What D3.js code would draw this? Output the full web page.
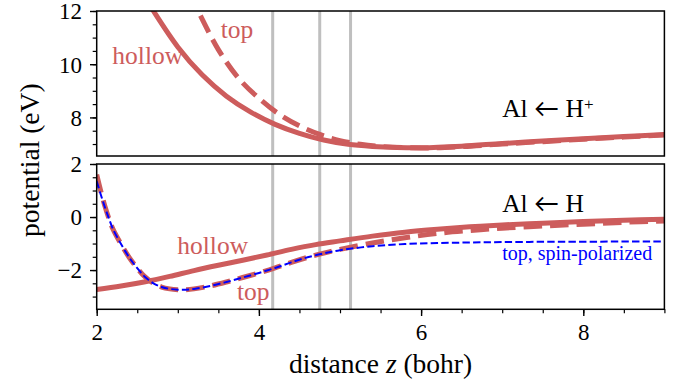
<!DOCTYPE html>
<html>
<head>
<meta charset="utf-8">
<script src="https://cdn.jsdelivr.net/npm/d3@7"></script>
<style>
  body { margin: 0; background: #fff; }
</style>
</head>
<body>
<svg id="chart" width="678" height="386" font-family="Liberation Serif"></svg>
<script>
// distance z (bohr) and potential (eV)

// Al <- H+ (upper panel)
const ionHollowZ = [2.0, 2.4, 2.7, 3.0, 3.3, 3.6, 3.9, 4.2, 4.5, 4.8, 5.1, 5.4, 5.7, 6.0, 6.5, 7.0, 7.5, 8.0, 8.5, 9.0];
const ionHollowV = [16.0, 13.5, 12.0, 10.65, 9.6, 8.8, 8.2, 7.74, 7.4, 7.15, 6.99, 6.91, 6.87, 6.86, 6.92, 7.02, 7.11, 7.2, 7.28, 7.36];
const ionTopZ = [2.5, 2.75, 3.0, 3.25, 3.5, 3.75, 4.0, 4.25, 4.5, 4.75, 5.0, 5.25, 5.5, 6.0, 6.5, 7.0, 7.5, 8.0, 8.5, 9.0];
const ionTopV = [17.3, 15.3, 13.55, 12.0, 10.55, 9.47, 8.72, 8.12, 7.68, 7.36, 7.13, 6.99, 6.91, 6.85, 6.9, 7.0, 7.09, 7.18, 7.26, 7.34];

// Al <- H (lower panel)
const neuHollowZ = [2.0, 2.3, 2.6, 2.9, 3.2, 3.5, 3.8, 4.1, 4.4, 4.7, 5.0, 5.4, 5.8, 6.2, 6.6, 7.0, 7.5, 8.0, 8.5, 9.0];
const neuHollowV = [-2.73, -2.6, -2.44, -2.24, -2.02, -1.82, -1.63, -1.43, -1.22, -1.04, -0.9, -0.72, -0.57, -0.46, -0.37, -0.3, -0.23, -0.17, -0.12, -0.08];
const neuTopZ = [2.0, 2.05, 2.1, 2.15, 2.2, 2.3, 2.4, 2.5, 2.6, 2.7, 2.8, 2.9, 3.0, 3.1, 3.2, 3.4, 3.6, 3.8, 4.0, 4.2, 4.4, 4.6, 4.8, 5.0, 5.4, 5.8, 6.2, 6.6, 7.0, 7.5, 8.0, 8.5, 9.0];
const neuTopV = [1.6, 0.98, 0.42, -0.05, -0.45, -1.02, -1.52, -1.93, -2.27, -2.5, -2.64, -2.71, -2.74, -2.74, -2.71, -2.6, -2.45, -2.28, -2.11, -1.92, -1.71, -1.52, -1.36, -1.22, -0.98, -0.78, -0.62, -0.51, -0.42, -0.34, -0.27, -0.2, -0.15];
const neuSpinV = [1.35, 0.85, 0.38, -0.05, -0.45, -1.02, -1.52, -1.93, -2.27, -2.5, -2.64, -2.71, -2.74, -2.74, -2.71, -2.6, -2.45, -2.28, -2.11, -1.92, -1.71, -1.52, -1.37, -1.25, -1.1, -1.02, -0.98, -0.96, -0.945, -0.935, -0.93, -0.925, -0.92];

// grey marker lines
const markerZ = [4.17, 4.75, 5.13];

// ticks
const xMajor = [2, 4, 6, 8];
const xMinor = d3.range(2, 9.01, 0.5);
const yTopMajor = [8, 10, 12];
const yTopMinor = d3.range(7, 12.01, 0.5);
const yBotMajor = [-2, 0, 2];
const yBotMinor = d3.range(-3, 2.01, 0.5);

const red = "#cd5c5c";
const serif = "Liberation Serif";

const svg = d3.select("#chart");
const left = 96.7, right = 664.4;

const x = d3.scaleLinear().domain([2, 9]).range([left, right]);
const yTop = d3.scaleLinear().domain([6.55, 12]).range([156, 11]);
const yBot = d3.scaleLinear().domain([-3.48, 2]).range([309.3, 164]);

function series(zs, vs) {
    return zs.map((z, i) => ({z: z, v: vs[i]}));
}

function styleTicks(a) {
    a.select(".domain").remove();
    a.attr("font-family", serif).attr("font-size", 23);
}

function panel(id, y, majors, minors) {
    const [y1, y0] = y.range();
    svg.append("clipPath").attr("id", id)
        .append("rect")
        .attr("x", left).attr("y", y0)
        .attr("width", right - left).attr("height", y1 - y0);

    const g = svg.append("g");
    const plot = g.append("g").attr("clip-path", `url(#${id})`);

    plot.selectAll("line.marker")
        .data(markerZ)
        .enter()
        .append("line")
            .attr("x1", d => x(d)).attr("x2", d => x(d))
            .attr("y1", y0).attr("y2", y1)
            .style("stroke", "#bfbfbf")
            .style("stroke-width", 3);

    // minor ticks first, then the labelled ones
    g.append("g")
        .attr("transform", `translate(${left},0)`)
        .call(d3.axisLeft(y).tickValues(minors).tickSize(4).tickFormat(""))
        .call(styleTicks)
        .selectAll("line").style("stroke-width", 1.2);

    g.append("g")
        .attr("transform", `translate(${left},0)`)
        .call(d3.axisLeft(y).tickValues(majors).tickSize(6.7).tickPadding(8).tickFormat(d3.format("d")))
        .call(styleTicks)
        .call(a => a.selectAll("line").style("stroke-width", 1.4))
        .selectAll("text").attr("dy", "0.34em");

    return {g: g, plot: plot, y: y, y0: y0, y1: y1};
}

function drawLine(p, data, color, width, dash) {
    const line = d3.line()
        .x(d => x(d.z))
        .y(d => p.y(d.v))
        .curve(d3.curveCatmullRom.alpha(0.5));
    p.plot.append("path")
        .datum(data)
        .attr("d", line)
        .style("fill", "none")
        .style("stroke", color)
        .style("stroke-width", width)
        .style("stroke-dasharray", dash || null);
}

function frame(p) {
    p.g.append("rect")
        .attr("x", left).attr("y", p.y0)
        .attr("width", right - left).attr("height", p.y1 - p.y0)
        .style("fill", "none")
        .style("stroke", "#000")
        .style("stroke-width", 1.5);
}

function label(p, txt, z, v, color, size, anchor) {
    return p.g.append("text")
        .attr("x", x(z)).attr("y", p.y(v))
        .attr("text-anchor", anchor)
        .attr("font-family", serif)
        .attr("font-size", size)
        .attr("fill", color)
        .text(txt);
}

function arrowTitle(p, z, v, sup) {
    const t = label(p, "Al ", z, v, "#000", 25.5, "start");
    t.append("tspan").attr("font-family", "Lato").attr("font-size", 25).text("\u2190");
    t.append("tspan").text(" H");
    if (sup) t.append("tspan").attr("dy", "-0.45em").attr("font-size", 17).text(sup);
}

// upper panel
const upper = panel("clipTop", yTop, yTopMajor, yTopMinor);
drawLine(upper, series(ionHollowZ, ionHollowV), red, 5);
drawLine(upper, series(ionTopZ, ionTopV), red, 5, "18.5,8");
frame(upper);
label(upper, "hollow", 2.63, 10.0, red, 25.5, "middle");
label(upper, "top", 3.73, 10.98, red, 25.5, "middle");
arrowTitle(upper, 7.0, 8.0, "+");

// lower panel
const lower = panel("clipBot", yBot, yBotMajor, yBotMinor);
drawLine(lower, series(neuHollowZ, neuHollowV), red, 5);
drawLine(lower, series(neuTopZ, neuTopV), red, 5, "18.5,8");
drawLine(lower, series(neuTopZ, neuSpinV), "#0000ff", 2, "7.4,3.2");
frame(lower);
label(lower, "hollow", 3.43, -1.38, red, 25.5, "middle");
label(lower, "top", 3.93, -3.14, red, 25.5, "middle");
arrowTitle(lower, 7.0, 0.19, null);
label(lower, "top, spin-polarized", 7.0, -1.61, "#0000ff", 20, "start");

// x axis under the lower panel
svg.append("g")
    .attr("transform", `translate(0,${yBot.range()[0]})`)
    .call(d3.axisBottom(x).tickValues(xMinor).tickSize(4).tickFormat(""))
    .call(styleTicks)
    .selectAll("line").style("stroke-width", 1.2);

svg.append("g")
    .attr("transform", `translate(0,${yBot.range()[0]})`)
    .call(d3.axisBottom(x).tickValues(xMajor).tickSize(6.7).tickPadding(8).tickFormat(d3.format("d")))
    .call(styleTicks)
    .selectAll("line").style("stroke-width", 1.4);

// axis titles
const xTitle = svg.append("text")
    .attr("x", (left + right) / 2).attr("y", 373)
    .attr("text-anchor", "middle")
    .attr("font-family", serif)
    .attr("font-size", 27.5);
xTitle.append("tspan").text("distance ");
xTitle.append("tspan").attr("font-style", "italic").text("z");
xTitle.append("tspan").text(" (bohr)");

svg.append("text")
    .attr("transform", `translate(39,${(11 + 309.3) / 2}) rotate(-90)`)
    .attr("text-anchor", "middle")
    .attr("font-family", serif)
    .attr("font-size", 27.5)
    .text("potential (eV)");
</script>
</body>
</html>
